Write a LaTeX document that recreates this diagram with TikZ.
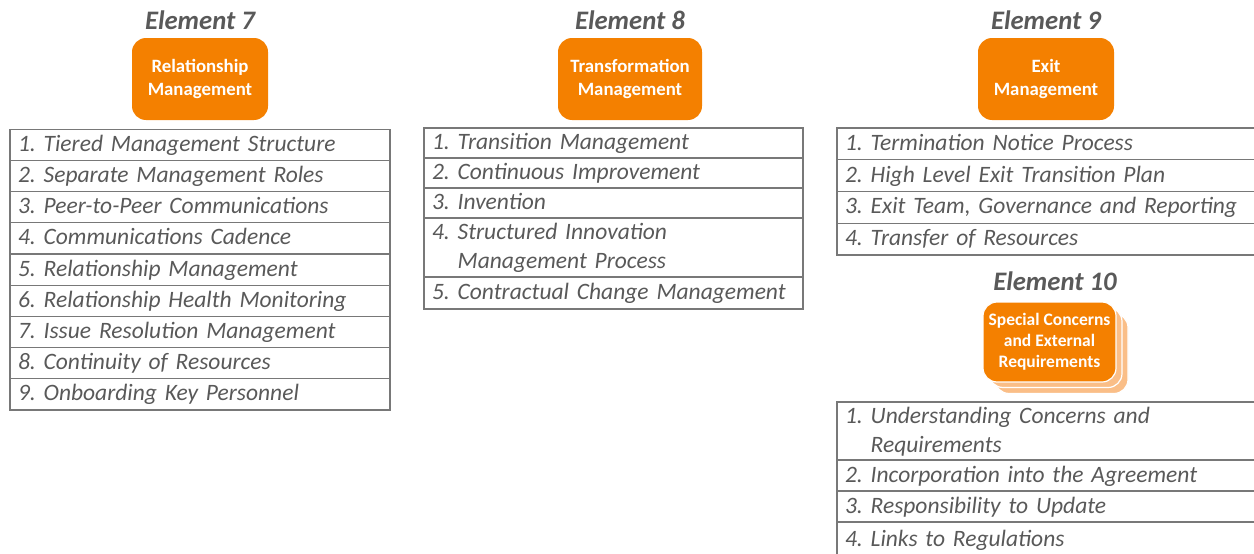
\documentclass[tikz,border=0pt]{standalone}
\usepackage{fontspec}
\setmainfont{Carlito}
\usetikzlibrary{positioning}
\definecolor{elemorange}{RGB}{244,128,0}
\definecolor{elemlight}{RGB}{250,190,135}
\definecolor{itemgray}{RGB}{89,89,89}
\definecolor{rulegray}{RGB}{120,120,120}
\newcommand{\rowheight}{31.2pt}
\newcommand{\rowgap}{9pt}
\tikzstyle{title}=[text=itemgray,font=\fontsize{26.7}{30}\selectfont\bfseries\itshape]
\tikzstyle{elem}=[fill=elemorange,text=white,draw=none,shape=rectangle,
                  rounded corners=14pt,align=center,
                  font=\fontsize{18.8}{22.5}\selectfont\bfseries]
\tikzstyle{layer}=[fill=elemlight,draw=white,line width=1.2pt,shape=rectangle,
                   rounded corners=14pt,minimum width=133pt,minimum height=80pt]
\tikzstyle{item}=[draw=rulegray,line width=1.2pt,text=itemgray,shape=rectangle,
                  inner xsep=8pt,inner ysep=0pt,outer sep=0pt,align=left,
                  minimum height=\rowheight,text height=18pt,text depth=5pt,
                  font=\fontsize{23.5}{29}\selectfont\itshape\frenchspacing]
\tikzstyle{twoline}=[text depth=34pt]

\begin{document}
\frenchspacing
\begin{tikzpicture}[x=1pt,y=-1pt]
\useasboundingbox (0,0) rectangle (1254,554);

% Element 7
\node [elem, minimum width=136pt, minimum height=82pt] (e7) at (200,79) {Relationship\\Management};
\node [title, above=5pt of e7] (t7) {Element 7};
\node [item, text width=364pt, below=\rowgap of e7] (r71) {1. Tiered Management Structure};
\node [item, text width=364pt, below=0pt of r71] (r72) {2. Separate Management Roles};
\node [item, text width=364pt, below=0pt of r72] (r73) {3. Peer-to-Peer Communications};
\node [item, text width=364pt, below=0pt of r73] (r74) {4. Communications Cadence};
\node [item, text width=364pt, below=0pt of r74] (r75) {5. Relationship Management};
\node [item, text width=364pt, below=0pt of r75] (r76) {6. Relationship Health Monitoring};
\node [item, text width=364pt, below=0pt of r76] (r77) {7. Issue Resolution Management};
\node [item, text width=364pt, below=0pt of r77] (r78) {8. Continuity of Resources};
\node [item, text width=364pt, below=0pt of r78] (r79) {9. Onboarding Key Personnel};

% Element 8
\node [elem, minimum width=144pt, minimum height=82pt] (e8) at (630,79) {Transformation\\Management};
\node [title, above=5pt of e8] (t8) {Element 8};
\node [item, text width=363pt, minimum height=30pt, anchor=north west] (r81) at (424,128) {1. Transition Management};
\node [item, text width=363pt, minimum height=30pt, below=0pt of r81] (r82) {2. Continuous Improvement};
\node [item, text width=363pt, minimum height=30pt, below=0pt of r82] (r83) {3. Invention};
\node [item, twoline, text width=363pt, minimum height=59pt, below=0pt of r83] (r84) {4. Structured Innovation\\\phantom{4. }Management Process};
\node [item, text width=363pt, minimum height=32pt, below=0pt of r84] (r85) {5. Contractual Change Management};

% Element 9
\node [elem, minimum width=136pt, minimum height=82pt] (e9) at (1046,79) {Exit\\Management};
\node [title, above=5pt of e9] (t9) {Element 9};
\node [item, text width=403pt, minimum height=31.75pt, anchor=north west] (r91) at (837,128) {1. Termination Notice Process};
\node [item, text width=403pt, minimum height=31.75pt, below=0pt of r91] (r92) {2. High Level Exit Transition Plan};
\node [item, text width=403pt, minimum height=31.75pt, below=0pt of r92] (r93) {3. Exit Team, Governance and Reporting};
\node [item, text width=403pt, minimum height=31.75pt, below=0pt of r93] (r94) {4. Transfer of Resources};

% Element 10
\node [layer] (l2) at (1061.5,353.5) {};
\node [layer] (l1) at (1055.5,347.5) {};
\node [elem, draw=white, line width=1.2pt, minimum width=133pt, minimum height=80pt,
       font=\fontsize{17.5}{21}\selectfont\bfseries] (e10) at (1049.5,342) {Special Concerns\\and External\\Requirements};
\node [title] (t10) at (1055,281) {Element 10};
\node [item, twoline, text width=403pt, minimum height=58pt, anchor=north west] (r101) at (837,402) {1. Understanding Concerns and\\\phantom{1. }Requirements};
\node [item, text width=403pt, minimum height=31pt, below=0pt of r101] (r102) {2. Incorporation into the Agreement};
\node [item, text width=403pt, minimum height=31pt, below=0pt of r102] (r103) {3. Responsibility to Update};
\node [item, text width=403pt, minimum height=36pt, below=0pt of r103] (r104) {4. Links to Regulations};
\end{tikzpicture}
\end{document}
